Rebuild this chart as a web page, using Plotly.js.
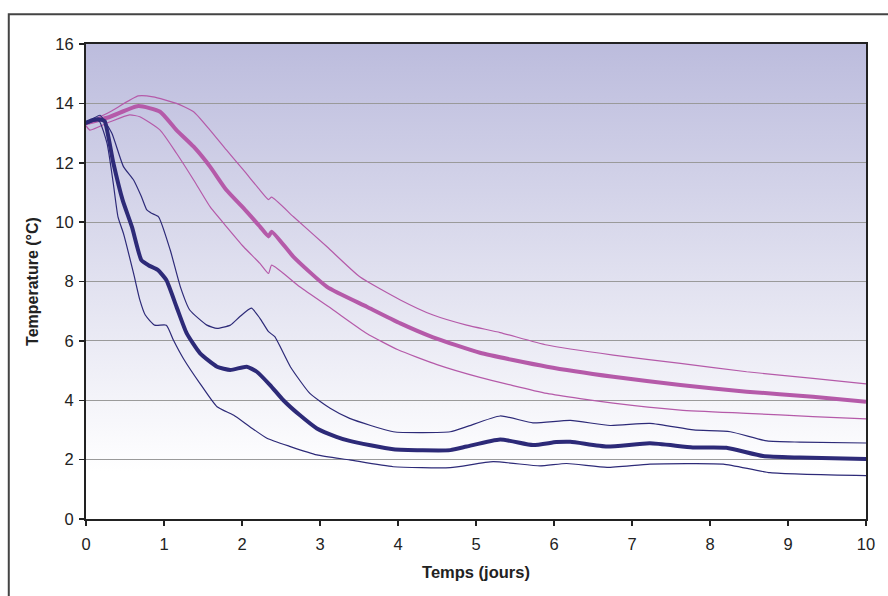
<!DOCTYPE html>
<html>
<head>
<meta charset="utf-8">
<script src="https://cdn.plot.ly/plotly-3.0.1.min.js"></script>
<style>html,body{margin:0;padding:0;background:#fff;}#chart{width:888px;height:596px;}</style>
</head>
<body>
<div id="chart"></div>
<script>
// Blue series (thick = mean, thin = bounds)
const blueMeanX = [0, 0.1, 0.2, 0.24, 0.35, 0.47, 0.59, 0.71, 0.8, 0.92, 1.03, 1.16, 1.29, 1.46, 1.68, 1.85, 2.06, 2.19, 2.36, 2.53, 2.74, 2.96, 3.21, 3.38, 3.94, 4.67, 4.88, 5.31, 5.73, 6.03, 6.21, 6.68, 7.23, 7.78, 8.21, 8.68, 9.15, 10];
const blueMeanY = [13.35, 13.45, 13.45, 13.4, 12.0, 10.74, 9.83, 8.72, 8.55, 8.39, 8.05, 7.15, 6.26, 5.59, 5.13, 5.02, 5.13, 4.96, 4.51, 4.0, 3.5, 3.05, 2.77, 2.63, 2.35, 2.32, 2.44, 2.68, 2.49, 2.59, 2.6, 2.44, 2.55, 2.41, 2.4, 2.12, 2.07, 2.02];
const blueUpX = [0, 0.1, 0.18, 0.33, 0.48, 0.61, 0.71, 0.78, 0.84, 0.93, 1.08, 1.21, 1.33, 1.55, 1.68, 1.85, 1.97, 2.12, 2.23, 2.34, 2.42, 2.62, 2.87, 3.13, 3.38, 3.94, 4.67, 4.88, 5.31, 5.73, 6.21, 6.72, 7.23, 7.79, 8.26, 8.73, 9.15, 10];
const blueUpY = [13.3, 13.5, 13.6, 13.0, 11.87, 11.42, 10.86, 10.41, 10.3, 10.18, 9.06, 7.82, 7.04, 6.53, 6.42, 6.53, 6.81, 7.1, 6.76, 6.31, 6.14, 5.13, 4.23, 3.73, 3.39, 2.94, 2.94, 3.11, 3.47, 3.24, 3.32, 3.15, 3.22, 3.0, 2.94, 2.63, 2.59, 2.56];
const blueLowX = [0, 0.1, 0.17, 0.27, 0.35, 0.41, 0.48, 0.61, 0.69, 0.76, 0.88, 1.03, 1.12, 1.25, 1.46, 1.68, 1.89, 2.1, 2.32, 2.62, 2.96, 3.38, 3.94, 4.67, 5.22, 5.82, 6.16, 6.68, 7.23, 8.17, 8.77, 10];
const blueLowY = [13.3, 13.4, 13.4, 12.65, 11.3, 10.18, 9.62, 8.27, 7.38, 6.87, 6.53, 6.53, 6.03, 5.4, 4.57, 3.78, 3.5, 3.11, 2.72, 2.44, 2.16, 1.99, 1.76, 1.73, 1.93, 1.79, 1.87, 1.74, 1.85, 1.85, 1.56, 1.46];

// Magenta series (thick = mean, thin = bounds)
const pinkMeanX = [0, 0.31, 0.67, 0.95, 1.16, 1.38, 1.59, 1.8, 2.02, 2.23, 2.34, 2.38, 2.66, 3.09, 3.6, 4.03, 4.45, 5.05, 5.91, 6.76, 7.62, 8.47, 9.32, 10];
const pinkMeanY = [13.33, 13.55, 13.91, 13.72, 13.1, 12.54, 11.87, 11.08, 10.47, 9.85, 9.52, 9.68, 8.83, 7.82, 7.15, 6.59, 6.12, 5.6, 5.13, 4.79, 4.51, 4.29, 4.12, 3.95];
const pinkUpX = [0, 0.09, 0.31, 0.67, 0.86, 1.16, 1.38, 1.59, 1.8, 2.02, 2.23, 2.34, 2.38, 2.66, 3.09, 3.51, 4.03, 4.45, 4.88, 5.31, 5.91, 6.76, 7.62, 8.47, 9.32, 10];
const pinkUpY = [13.33, 13.44, 13.72, 14.25, 14.22, 14.0, 13.72, 13.1, 12.43, 11.75, 11.08, 10.76, 10.84, 10.18, 9.17, 8.16, 7.38, 6.87, 6.53, 6.28, 5.86, 5.52, 5.24, 4.96, 4.74, 4.55];
const pinkLowX = [0, 0.05, 0.31, 0.56, 0.69, 0.95, 1.16, 1.38, 1.59, 1.8, 2.02, 2.23, 2.34, 2.38, 2.74, 3.17, 3.6, 4.0, 4.5, 5.05, 5.91, 6.76, 7.62, 8.47, 9.32, 10];
const pinkLowY = [13.25, 13.1, 13.38, 13.61, 13.55, 13.1, 12.32, 11.42, 10.52, 9.85, 9.17, 8.61, 8.27, 8.55, 7.82, 7.04, 6.25, 5.7, 5.2, 4.77, 4.23, 3.9, 3.67, 3.56, 3.45, 3.37];

const yTicks = [0, 2, 4, 6, 8, 10, 12, 14, 16];
const xTicks = [0, 1, 2, 3, 4, 5, 6, 7, 8, 9, 10];

const NAVY = '#2d2a78';
const PINK = '#b55aa9';
const FONT = 'Liberation Sans, Arial, sans-serif';

function tr(x, y, color, width) {
  return {x: x, y: y, type: 'scatter', mode: 'lines',
    line: {color: color, width: width, shape: 'spline', smoothing: 0.5},
    hoverinfo: 'skip', showlegend: false};
}

const data = [
  tr(pinkUpX, pinkUpY, PINK, 1.2),
  tr(pinkLowX, pinkLowY, PINK, 1.2),
  tr(pinkMeanX, pinkMeanY, PINK, 4),
  tr(blueUpX, blueUpY, NAVY, 1.2),
  tr(blueLowX, blueLowY, NAVY, 1.2),
  tr(blueMeanX, blueMeanY, NAVY, 4)
];

const svg = '<svg xmlns="http://www.w3.org/2000/svg" width="100" height="100" preserveAspectRatio="none">' +
  '<defs><linearGradient id="g" x1="0" y1="0" x2="0" y2="1">' +
  '<stop offset="0" stop-color="rgb(188,188,221)"/>' +
  '<stop offset="0.9" stop-color="rgb(255,255,255)"/>' +
  '<stop offset="1" stop-color="rgb(255,255,255)"/>' +
  '</linearGradient></defs><rect width="100" height="100" fill="url(#g)"/></svg>';

const layout = {
  width: 888, height: 596,
  margin: {l: 86, r: 22, t: 44, b: 77, pad: 0},
  paper_bgcolor: '#ffffff',
  plot_bgcolor: 'rgba(0,0,0,0)',
  font: {family: FONT, size: 16, color: '#222'},
  xaxis: {
    range: [0, 10], tickvals: xTicks, ticktext: xTicks.map(String),
    ticks: 'outside', ticklen: 5, tickwidth: 1.5, tickcolor: '#222',
    showgrid: false, zeroline: false,
    showline: true, linecolor: '#222', linewidth: 2, mirror: true,
    ticklabelstandoff: 4,
    title: {text: 'Temps (jours)', font: {size: 16.5, color: '#222', family: FONT, weight: 'bold'}, standoff: 15},
    tickfont: {size: 16.5, family: FONT}
  },
  yaxis: {
    range: [0, 16], tickvals: yTicks, ticktext: yTicks.map(String),
    ticks: 'outside', ticklen: 5, tickwidth: 1.5, tickcolor: '#222',
    showgrid: true, gridcolor: '#9a9a9a', gridwidth: 1.2,
    zeroline: false,
    showline: true, linecolor: '#222', linewidth: 2, mirror: true,
    ticklabelstandoff: 2,
    title: {text: 'Temperature (°C)', font: {size: 16, color: '#222', family: FONT, weight: 'bold'}, standoff: 13},
    tickfont: {size: 16.5, family: FONT}
  },
  images: [{
    source: 'data:image/svg+xml;charset=utf-8,' + encodeURIComponent(svg),
    xref: 'paper', yref: 'paper', x: 0, y: 1, sizex: 1, sizey: 1,
    sizing: 'stretch', xanchor: 'left', yanchor: 'top', layer: 'below'
  }],
  shapes: [{
    type: 'rect', xref: 'paper', yref: 'paper',
    x0: -0.099, x1: 1.04, y0: -0.2, y1: 1.0625,
    line: {color: '#444', width: 2}, fillcolor: 'rgba(0,0,0,0)', layer: 'below'
  }]
};

Plotly.newPlot('chart', data, layout, {displayModeBar: false, staticPlot: true});
</script>
</body>
</html>
